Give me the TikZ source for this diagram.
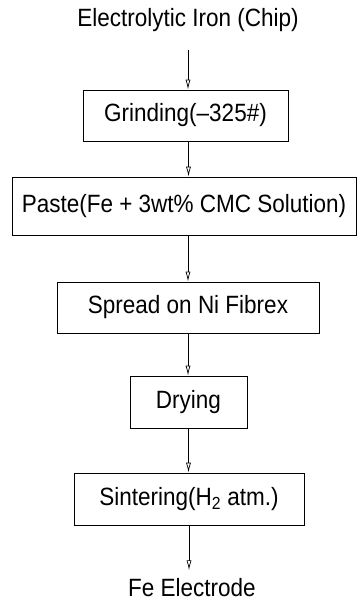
\documentclass[tikz,border=0pt]{standalone}
\usepackage{fontspec}
\setmainfont[FakeStretch=0.9]{Liberation Sans}
\usetikzlibrary{arrows.meta}

\begin{document}
\begin{tikzpicture}[x=1pt,y=-1pt,
  stepbox/.style={draw,line width=0.8pt,inner sep=0pt},
  flow/.style={line width=0.7pt,-{Latex[open,length=10pt,width=5pt]}}]
  \useasboundingbox (0,0) rectangle (360,601);
  \fontsize{25}{28}\selectfont

  %input
  \node[draw=none] (iron) at (188,20) {Electrolytic Iron (Chip)};

  %process steps
  \node[stepbox,minimum width=205pt,minimum height=51pt] (grind) at (185.5,115.5) {Grinding(\textendash325\#)};
  \node[stepbox,minimum width=344pt,minimum height=58pt] (paste) at (184,206) {Paste(Fe + 3wt\% CMC Solution)};
  \node[stepbox,minimum width=262pt,minimum height=51pt] (spread) at (188,307.5) {Spread on Ni Fibrex};
  \node[stepbox,minimum width=117pt,minimum height=52pt] (dry) at (188.5,402) {Drying};
  \node[stepbox,minimum width=230pt,minimum height=52pt] (sinter) at (189,499) {Sintering(H\textsubscript{2} atm.)};

  %output
  \node[draw=none] (elec) at (192,588) {Fe Electrode};

  \draw[flow] (iron.south) ++(0,10) coordinate (irontail) -- (irontail |- grind.north);
  \draw[flow] (grind.south) ++(3,0) coordinate (grindtail) -- (grindtail |- paste.north);
  \draw[flow] (paste.south) ++(4,0) coordinate (pastetail) -- (pastetail |- spread.north);
  \draw[flow] (spread.south) -- (spread.south |- dry.north);
  \draw[flow] (dry.south) -- (dry.south |- sinter.north);
  \draw[flow] (sinter.south) -- (sinter.south |- elec.north);

\end{tikzpicture}
\end{document}
